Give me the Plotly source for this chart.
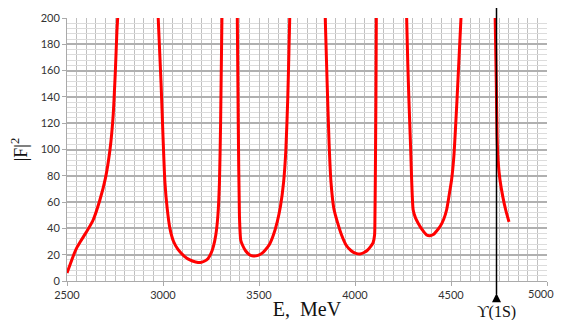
import plotly.graph_objects as go

# Data (E in MeV, |F|^2)
e1 = [2500, 2520, 2535, 2550, 2570, 2600, 2635, 2672, 2700, 2724, 2740, 2752, 2760, 2764]
f1 = [6, 14, 20, 25, 30, 37, 46, 62, 78, 100, 125, 160, 190, 200]

e2 = [2975, 2990, 3000, 3010, 3022, 3036, 3055, 3078, 3110, 3140, 3170, 3193, 3215, 3234,
      3250, 3262, 3275, 3286, 3294, 3300, 3307]
f2 = [200, 150, 110, 75, 55, 40, 30, 24, 19, 16, 14.5, 14, 15, 17, 21, 26, 35, 50, 75, 120, 200]

e3 = [3387, 3392, 3398, 3405, 3415, 3430, 3450, 3470, 3495, 3515, 3535, 3555, 3575, 3595,
      3612, 3628, 3640, 3650, 3656, 3660]
f3 = [200, 120, 50, 31, 27, 23, 20, 19, 19.5, 21, 24, 28, 35, 45, 57, 75, 100, 140, 175, 200]

e4 = [3845, 3855, 3865, 3875, 3890, 3910, 3930, 3955, 3980, 4005, 4026, 4045, 4062, 4080,
      4094, 4102, 4104, 4106, 4109, 4111]
f4 = [200, 150, 105, 75, 55, 44, 35, 27, 23, 21, 20.5, 21.5, 23, 26, 29, 35, 50, 80, 140, 200]

e5 = [4269, 4275, 4281, 4290, 4295, 4303, 4315, 4329, 4350, 4373, 4391, 4410, 4425, 4443,
      4462, 4477, 4490, 4503, 4515, 4531, 4542, 4552]
f5 = [200, 165, 137, 100, 77, 54, 48, 44, 39, 35, 34.5, 35.5, 38, 41.4, 47, 54, 65, 77, 95,
      137, 170, 200]

e6 = [4730, 4736, 4740, 4746, 4755, 4770, 4785, 4802]
f6 = [200, 150, 110, 90, 77, 64, 54, 45]

x_ticks = [2500, 3000, 3500, 4000, 4500, 5000]
y_ticks = [0, 20, 40, 60, 80, 100, 120, 140, 160, 180, 200]
upsilon_E = 4737
upsilon_label = "ϒ(1S)"

fig = go.Figure()
for ex, fy in [(e1, f1), (e2, f2), (e3, f3), (e4, f4), (e5, f5), (e6, f6)]:
    fig.add_trace(go.Scatter(x=ex, y=fy, mode="lines",
                             line=dict(color="#ff0000", width=3, shape="spline", smoothing=0.6),
                             showlegend=False, hoverinfo="skip", cliponaxis=True))

tickfont = dict(family="Lato, Carlito, Liberation Sans, sans-serif", size=11, color="#333333")

# the last tick label sits at the very edge of the page; it is drawn as an annotation
# right-aligned to the page edge so that it is not clipped
ticktext_x = [str(v) for v in x_ticks[:-1]] + [""]

fig.update_xaxes(range=[2500, 5000], tickvals=x_ticks, ticktext=ticktext_x,
                 tickfont=tickfont, showgrid=True, gridcolor="#c0c0c0", gridwidth=1,
                 minor=dict(dtick=50, tick0=2500, showgrid=True, gridcolor="#c0c0c0", gridwidth=1),
                 ticks="outside", ticklen=4, tickcolor="#aaaaaa", automargin=False,
                 ticklabeloverflow="allow",
                 showline=True, linecolor="#aaaaaa", linewidth=1, zeroline=False,
                 title=dict(text="E,  MeV", font=dict(family="Liberation Serif, Times New Roman, serif",
                                                    size=20, color="#111111"), standoff=4))
fig.update_yaxes(range=[0, 200], tickvals=y_ticks, ticktext=[str(v) for v in y_ticks],
                 tickfont=tickfont, showgrid=True, gridcolor="#b0b0b0", gridwidth=1.5,
                 minor=dict(dtick=4, tick0=0, showgrid=True, gridcolor="#dcdcdc", gridwidth=1),
                 ticks="outside", ticklen=4, tickcolor="#aaaaaa", automargin=False,
                 showline=True, linecolor="#aaaaaa", linewidth=1, zeroline=False,
                 title=dict(text="|F|<sup>2</sup>", font=dict(family="Liberation Serif, Times New Roman, serif",
                                                             size=18, color="#111111"), standoff=14))

fig.add_annotation(x=x_ticks[-1], xref="x", y=0, yref="paper", yanchor="top", xanchor="right",
                   xshift=8, yshift=-5, text=str(x_ticks[-1]), showarrow=False,
                   font=tickfont, borderpad=0)

# Upsilon(1S) marker: vertical line with arrow and label
fig.add_shape(type="line", xref="x", yref="paper", x0=upsilon_E, x1=upsilon_E,
              y0=-0.05, y1=1.05, line=dict(color="#000000", width=1.5))
fig.add_annotation(x=upsilon_E, xref="x", yref="paper", y=-0.047, ax=0, ay=19,
                   text=upsilon_label, showarrow=True, arrowhead=2, arrowsize=1.2,
                   arrowwidth=1.5, arrowcolor="#000000",
                   font=dict(family="Liberation Serif, Times New Roman, serif", size=16, color="#111111"))

# page body adds an 8px margin on every side, so the figure is sized to fit inside it
fig.update_layout(width=554, height=312, margin=dict(l=59, r=15, t=10, b=39, autoexpand=False),
                  paper_bgcolor="white", plot_bgcolor="white")

fig.write_html("out.html")
